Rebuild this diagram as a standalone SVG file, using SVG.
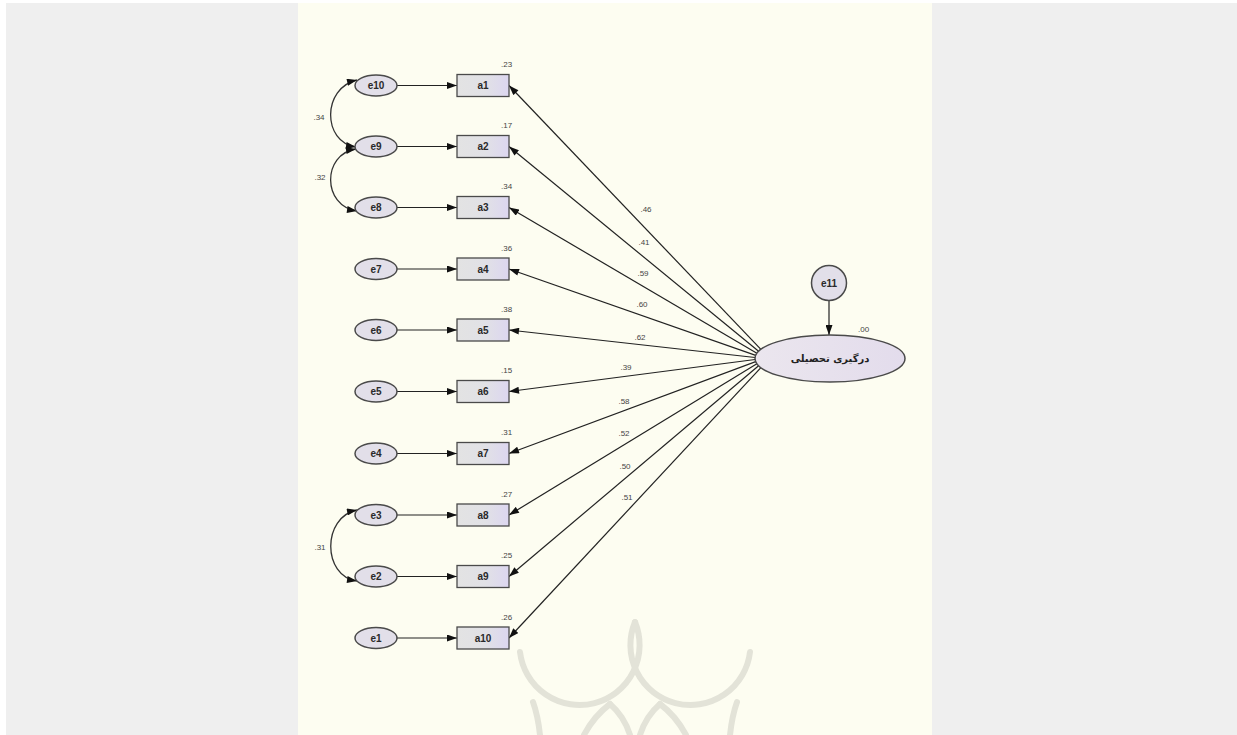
<svg xmlns="http://www.w3.org/2000/svg" width="1237" height="735" viewBox="0 0 1237 735">
<style>
.eo{fill:#e2dfe9;stroke:#4a4a4a;stroke-width:1.5}
.ob{fill:url(#gr);stroke:#4a4a4a;stroke-width:1.3}
.nl{font-family:"Liberation Sans",Arial,sans-serif;font-size:10px;font-weight:bold;fill:#2a2a2a;text-anchor:middle}
.vl{font-family:"Liberation Sans",Arial,sans-serif;font-size:8px;fill:#444}
.pl{font-family:"Liberation Sans",Arial,sans-serif;font-size:8px;fill:#444;text-anchor:middle}
.ln{stroke:#222;stroke-width:1.2;fill:none;marker-end:url(#ah)}
.cv{stroke:#333;stroke-width:1.3;fill:none;marker-start:url(#ah);marker-end:url(#ah)}
.wm{stroke:#e3e3d8;stroke-width:6;fill:none;stroke-linecap:round}
</style>
<defs>
<linearGradient id="gr" x1="0" y1="0" x2="1" y2="0">
<stop offset="0" stop-color="#e3e3e3"/>
<stop offset="0.55" stop-color="#e1e1e6"/>
<stop offset="1" stop-color="#dcd6f0"/>
</linearGradient>
<linearGradient id="lg" x1="0" y1="0" x2="1" y2="0">
<stop offset="0" stop-color="#ebe6ee"/>
<stop offset="1" stop-color="#e3dcec"/>
</linearGradient>
<marker id="ah" viewBox="0 0 10 7" refX="10" refY="3.5" markerWidth="11" markerHeight="7" markerUnits="userSpaceOnUse" orient="auto-start-reverse">
<path d="M0,0 L10,3.5 L0,7 z" fill="#111"/>
</marker>
</defs>
<rect x="0" y="0" width="1237" height="735" fill="#ffffff"/>
<rect x="6" y="3" width="1231" height="732" fill="#efefef"/>
<rect x="298" y="3" width="634" height="732" fill="#fdfdf1"/>
<g id="watermark">
<path class="wm" d="M520,652 A60,60 0 1 0 635,622"/>
<path class="wm" d="M635,622 A60,60 0 1 0 750,652"/>
<path class="wm" d="M533,702 Q538,716 540,735"/>
<path class="wm" d="M737,702 Q732,716 730,735"/>
<path class="wm" d="M610,704 Q594,716 584,735"/>
<path class="wm" d="M610,704 Q624,716 630,735"/>
<path class="wm" d="M660,704 Q676,716 686,735"/>
<path class="wm" d="M660,704 Q646,716 640,735"/>
</g>
<g id="connectors">
<line class="ln" x1="397" y1="85.5" x2="457" y2="85.5"/>
<line class="ln" x1="397" y1="146.5" x2="457" y2="146.5"/>
<line class="ln" x1="397" y1="207.5" x2="457" y2="207.5"/>
<line class="ln" x1="397" y1="269" x2="457" y2="269"/>
<line class="ln" x1="397" y1="330" x2="457" y2="330"/>
<line class="ln" x1="397" y1="391.5" x2="457" y2="391.5"/>
<line class="ln" x1="397" y1="453.5" x2="457" y2="453.5"/>
<line class="ln" x1="397" y1="515" x2="457" y2="515"/>
<line class="ln" x1="397" y1="576.5" x2="457" y2="576.5"/>
<line class="ln" x1="397" y1="638" x2="457" y2="638"/>
<line class="ln" x1="760.9" y1="349.4" x2="509" y2="85.5"/>
<line class="ln" x1="758.6" y1="351.3" x2="509" y2="146.5"/>
<line class="ln" x1="756.9" y1="353.3" x2="509" y2="207.5"/>
<line class="ln" x1="755.7" y1="355.4" x2="509" y2="269"/>
<line class="ln" x1="755.1" y1="357.5" x2="509" y2="330"/>
<line class="ln" x1="755.1" y1="359.5" x2="509" y2="391.5"/>
<line class="ln" x1="755.7" y1="361.6" x2="509" y2="453.5"/>
<line class="ln" x1="756.9" y1="363.7" x2="509" y2="515"/>
<line class="ln" x1="758.6" y1="365.7" x2="509" y2="576.5"/>
<line class="ln" x1="760.9" y1="367.6" x2="509" y2="638"/>
<line class="ln" x1="829" y1="300.5" x2="829" y2="335"/>
<path class="cv" d="M357,80 C322,88 322,142 356,147"/>
<path class="cv" d="M356,149 C322,154 322,206 357,211"/>
<path class="cv" d="M357,510 C322,517 322,576 357,581"/>
<text class="pl" x="319" y="120">.34</text>
<text class="pl" x="320" y="180">.32</text>
<text class="pl" x="320" y="550">.31</text>
<text class="pl" x="646" y="212">.46</text>
<text class="pl" x="644" y="245">.41</text>
<text class="pl" x="643" y="276">.59</text>
<text class="pl" x="642" y="307">.60</text>
<text class="pl" x="640" y="340">.62</text>
<text class="pl" x="626" y="370">.39</text>
<text class="pl" x="624" y="404">.58</text>
<text class="pl" x="624" y="436">.52</text>
<text class="pl" x="625" y="469">.50</text>
<text class="pl" x="627" y="500">.51</text>
</g>
<g id="e10"><ellipse class="eo" cx="376" cy="85.5" rx="21" ry="10.5"/><text class="nl" x="376" y="89">e10</text></g>
<g id="e9"><ellipse class="eo" cx="376" cy="146.5" rx="21" ry="10.5"/><text class="nl" x="376" y="150">e9</text></g>
<g id="e8"><ellipse class="eo" cx="376" cy="207.5" rx="21" ry="10.5"/><text class="nl" x="376" y="211">e8</text></g>
<g id="e7"><ellipse class="eo" cx="376" cy="269" rx="21" ry="10.5"/><text class="nl" x="376" y="272.5">e7</text></g>
<g id="e6"><ellipse class="eo" cx="376" cy="330" rx="21" ry="10.5"/><text class="nl" x="376" y="333.5">e6</text></g>
<g id="e5"><ellipse class="eo" cx="376" cy="391.5" rx="21" ry="10.5"/><text class="nl" x="376" y="395">e5</text></g>
<g id="e4"><ellipse class="eo" cx="376" cy="453.5" rx="21" ry="10.5"/><text class="nl" x="376" y="457">e4</text></g>
<g id="e3"><ellipse class="eo" cx="376" cy="515" rx="21" ry="10.5"/><text class="nl" x="376" y="518.5">e3</text></g>
<g id="e2"><ellipse class="eo" cx="376" cy="576.5" rx="21" ry="10.5"/><text class="nl" x="376" y="580">e2</text></g>
<g id="e1"><ellipse class="eo" cx="376" cy="638" rx="21" ry="10.5"/><text class="nl" x="376" y="641.5">e1</text></g>
<g id="a1"><rect class="ob" x="457" y="74.5" width="52" height="22"/><text class="nl" x="483" y="89">a1</text><text class="vl" x="501" y="67">.23</text></g>
<g id="a2"><rect class="ob" x="457" y="135.5" width="52" height="22"/><text class="nl" x="483" y="150">a2</text><text class="vl" x="501" y="128">.17</text></g>
<g id="a3"><rect class="ob" x="457" y="196.5" width="52" height="22"/><text class="nl" x="483" y="211">a3</text><text class="vl" x="501" y="189">.34</text></g>
<g id="a4"><rect class="ob" x="457" y="258" width="52" height="22"/><text class="nl" x="483" y="272.5">a4</text><text class="vl" x="501" y="251">.36</text></g>
<g id="a5"><rect class="ob" x="457" y="319" width="52" height="22"/><text class="nl" x="483" y="333.5">a5</text><text class="vl" x="501" y="312">.38</text></g>
<g id="a6"><rect class="ob" x="457" y="380.5" width="52" height="22"/><text class="nl" x="483" y="395">a6</text><text class="vl" x="501" y="373">.15</text></g>
<g id="a7"><rect class="ob" x="457" y="442.5" width="52" height="22"/><text class="nl" x="483" y="457">a7</text><text class="vl" x="501" y="435">.31</text></g>
<g id="a8"><rect class="ob" x="457" y="504" width="52" height="22"/><text class="nl" x="483" y="518.5">a8</text><text class="vl" x="501" y="497">.27</text></g>
<g id="a9"><rect class="ob" x="457" y="565.5" width="52" height="22"/><text class="nl" x="483" y="580">a9</text><text class="vl" x="501" y="558">.25</text></g>
<g id="a10"><rect class="ob" x="457" y="627" width="52" height="22"/><text class="nl" x="483" y="641.5">a10</text><text class="vl" x="501" y="620">.26</text></g>
<g id="e11"><circle class="eo" cx="829" cy="283" r="17.5"/><text class="nl" x="829" y="286.5">e11</text></g>
<g id="latent"><ellipse cx="830" cy="358.5" rx="75" ry="23.5" fill="url(#lg)" stroke="#4a4a4a" stroke-width="1.5"/><text x="830" y="362" font-family="'DejaVu Sans',sans-serif" font-size="10" font-weight="bold" fill="#222" text-anchor="middle">درگیری تحصیلی</text><text class="vl" x="858" y="332">.00</text></g>
</svg>
